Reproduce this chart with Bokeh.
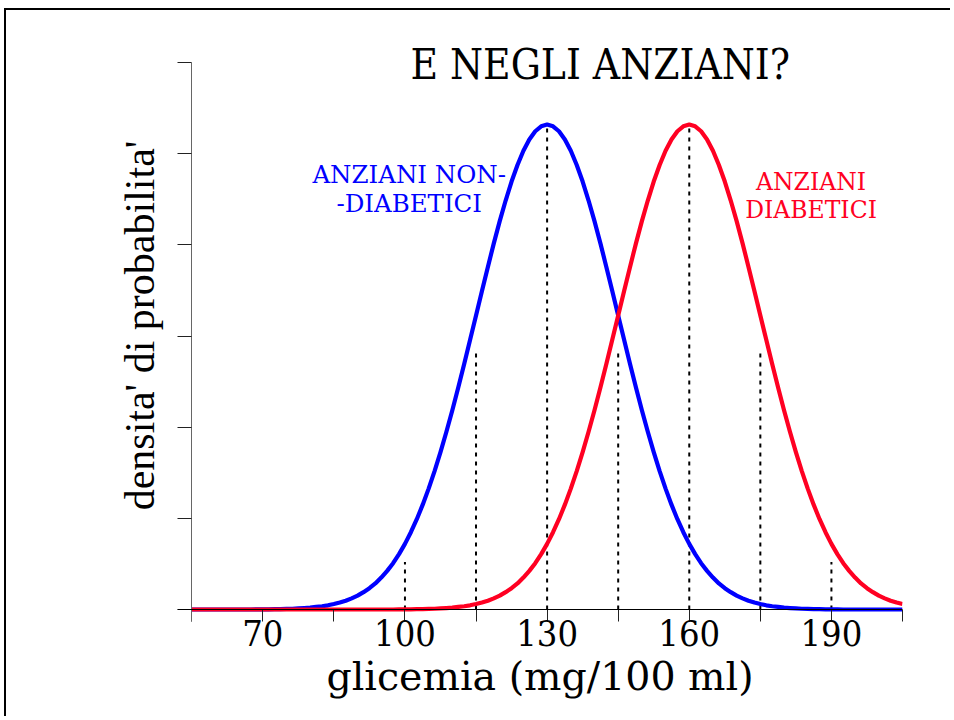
from bokeh.plotting import figure
from bokeh.models import FixedTicker, Span, Range1d, LinearAxis
from bokeh.core.properties import value
from bokeh.embed import file_html
from bokeh.resources import INLINE

# ---- data ----
glicemia = [55, 56.25, 57.5, 58.75, 60, 61.25, 62.5, 63.75, 65, 66.25, 67.5, 68.75, 70, 71.25,
            72.5, 73.75, 75, 76.25, 77.5, 78.75, 80, 81.25, 82.5, 83.75, 85, 86.25, 87.5, 88.75,
            90, 91.25, 92.5, 93.75, 95, 96.25, 97.5, 98.75, 100, 101.25, 102.5, 103.75, 105,
            106.25, 107.5, 108.75, 110, 111.25, 112.5, 113.75, 115, 116.25, 117.5, 118.75, 120,
            121.25, 122.5, 123.75, 125, 126.25, 127.5, 128.75, 130, 131.25, 132.5, 133.75, 135,
            136.25, 137.5, 138.75, 140, 141.25, 142.5, 143.75, 145, 146.25, 147.5, 148.75, 150,
            151.25, 152.5, 153.75, 155, 156.25, 157.5, 158.75, 160, 161.25, 162.5, 163.75, 165,
            166.25, 167.5, 168.75, 170, 171.25, 172.5, 173.75, 175, 176.25, 177.5, 178.75, 180,
            181.25, 182.5, 183.75, 185, 186.25, 187.5, 188.75, 190, 191.25, 192.5, 193.75, 195,
            196.25, 197.5, 198.75, 200, 201.25, 202.5, 203.75, 205]

non_diabetici = [0, 0, 0, 0, 0, 0, 0, 0, 0, 0, 0,
                 0.00001, 0.00001, 0.00001, 0.00002, 0.00002, 0.00003, 0.00004, 0.00006, 0.00008, 0.00010,
                 0.00014, 0.00018, 0.00023, 0.00030, 0.00038, 0.00048, 0.00061, 0.00076, 0.00095, 0.00117,
                 0.00143, 0.00175, 0.00212, 0.00254, 0.00304, 0.00360, 0.00424, 0.00495, 0.00575, 0.00663,
                 0.00759, 0.00863, 0.00975, 0.01093, 0.01218, 0.01347, 0.01479, 0.01613, 0.01747, 0.01879,
                 0.02008, 0.02130, 0.02243, 0.02347, 0.02438, 0.02516, 0.02578, 0.02623, 0.02650,
                 0.02660,
                 0.02650, 0.02623, 0.02578, 0.02516, 0.02438, 0.02347, 0.02243, 0.02130, 0.02008,
                 0.01879, 0.01747, 0.01613, 0.01479, 0.01347, 0.01218, 0.01093, 0.00975, 0.00863, 0.00759,
                 0.00663, 0.00575, 0.00495, 0.00424, 0.00360, 0.00304, 0.00254, 0.00212, 0.00175, 0.00143,
                 0.00117, 0.00095, 0.00076, 0.00061, 0.00048, 0.00038, 0.00030, 0.00023, 0.00018, 0.00014,
                 0.00010, 0.00008, 0.00006, 0.00004, 0.00003, 0.00002, 0.00002, 0.00001, 0.00001, 0.00001,
                 0, 0, 0, 0, 0, 0, 0, 0, 0, 0, 0]

diabetici = [0, 0, 0, 0, 0, 0, 0, 0, 0, 0, 0, 0, 0, 0, 0, 0, 0, 0, 0, 0, 0, 0, 0, 0, 0, 0, 0, 0,
             0, 0, 0, 0, 0, 0, 0,
             0.00001, 0.00001, 0.00001, 0.00002, 0.00002, 0.00003, 0.00004, 0.00006, 0.00008, 0.00010,
             0.00014, 0.00018, 0.00023, 0.00030, 0.00038, 0.00048, 0.00061, 0.00076, 0.00095, 0.00117,
             0.00143, 0.00175, 0.00212, 0.00254, 0.00304, 0.00360, 0.00424, 0.00495, 0.00575, 0.00663,
             0.00759, 0.00863, 0.00975, 0.01093, 0.01218, 0.01347, 0.01479, 0.01613, 0.01747, 0.01879,
             0.02008, 0.02130, 0.02243, 0.02347, 0.02438, 0.02516, 0.02578, 0.02623, 0.02650,
             0.02660,
             0.02650, 0.02623, 0.02578, 0.02516, 0.02438, 0.02347, 0.02243, 0.02130, 0.02008,
             0.01879, 0.01747, 0.01613, 0.01479, 0.01347, 0.01218, 0.01093, 0.00975, 0.00863, 0.00759,
             0.00663, 0.00575, 0.00495, 0.00424, 0.00360, 0.00304, 0.00254, 0.00212, 0.00175, 0.00143,
             0.00117, 0.00095, 0.00076, 0.00061, 0.00048, 0.00038, 0.00030]

guide_x = [100, 115, 130, 145, 160, 175, 190]
guide_top = [0.0026, 0.0143, 0.0266, 0.0143, 0.0266, 0.0143, 0.0026]

x_ticks = [55, 70, 85, 100, 115, 130, 145, 160, 175, 190, 205]
x_tick_labels = {55: "", 70: "70", 85: "", 100: "100", 115: "", 130: "130", 145: "",
                 160: "160", 175: "", 190: "190", 205: ""}
y_ticks = [0, 0.005, 0.01, 0.015, 0.02, 0.025, 0.03]

title_text = "E NEGLI ANZIANI?"
x_title = "glicemia (mg/100 ml)"
y_title = "densita' di probabilita'"
blue_label = ["ANZIANI NON-", "-DIABETICI"]
red_label = ["ANZIANI", "DIABETICI"]

# ---- styling ----
BLUE = "#0000ff"
RED = "#ff0022"
SLAB_C = "DejaVu Serif Condensed, DejaVu Serif"
SLAB = "DejaVu Serif"
TIMES = "Liberation Serif"

p = figure(width=946, height=708, output_backend="svg", toolbar_location=None,
           x_range=Range1d(52, 205), y_range=Range1d(-0.000658, 0.03181),
           min_border_left=171, min_border_right=50, min_border_top=19, min_border_bottom=97)
p.grid.visible = False
p.outline_line_color = None
p.background_fill_color = "white"
p.border_fill_color = "white"
p.styles = {"margin-left": "4px", "margin-top": "8px",
            "border-left": "2px solid black", "border-top": "2px solid black"}

# x axis: its own line is hidden; a baseline is drawn at y = 0, ticks go up to it
xa = p.xaxis[0]
xa.ticker = FixedTicker(ticks=x_ticks)
xa.major_label_overrides = x_tick_labels
xa.minor_tick_line_color = None
xa.axis_line_color = None
xa.major_tick_in = 12
xa.major_tick_out = 0
xa.major_tick_line_color = "#222222"
xa.major_label_text_font = SLAB_C
xa.major_label_text_font_size = "36px"
xa.major_label_text_color = "black"
xa.major_label_standoff = -2
xa.axis_label = x_title
xa.axis_label_text_font = SLAB
xa.axis_label_text_font_size = "39.5px"
xa.axis_label_text_font_style = "normal"
xa.axis_label_text_color = "black"
xa.axis_label_standoff = 4

# label-only y axis at the frame edge
yl = p.yaxis[0]
yl.ticker = FixedTicker(ticks=[])
yl.axis_line_color = None
yl.major_tick_line_color = None
yl.minor_tick_line_color = None
yl.major_tick_out = 0
yl.major_tick_in = 0
yl.major_label_text_font_size = "0px"
yl.axis_label = y_title
yl.axis_label_text_font = TIMES
yl.axis_label_text_font_size = "42px"
yl.axis_label_text_font_style = "normal"
yl.axis_label_text_color = "black"
yl.axis_label_standoff = 15

# visible y axis line with outward ticks, placed at glicemia = 55
ya = LinearAxis(fixed_location=55, bounds=(-0.000658, 0.03), ticker=FixedTicker(ticks=y_ticks),
                major_label_overrides={t: "" for t in y_ticks},
                minor_tick_line_color=None, axis_line_color="#666666",
                major_tick_in=0, major_tick_out=15, major_tick_line_color="#222222")
p.add_layout(ya, "left")

p.add_layout(Span(location=0, dimension="width", line_color="black", line_width=1.2))

p.segment(x0=guide_x, y0=[0] * len(guide_x), x1=guide_x, y1=guide_top,
          line_color="black", line_width=2, line_dash="4 5")

p.line(glicemia, non_diabetici, line_color=BLUE, line_width=4.2, line_join="round")
p.line(glicemia, diabetici, line_color=RED, line_width=4.2, line_join="round")

p.text(x=[141.2], y=[0.02989], text=[title_text], text_font=value(SLAB_C),
       text_font_size="42px", text_align="center", text_baseline="middle", text_color="black")
p.text(x=[100.9, 100.9], y=[0.02386, 0.02227], text=blue_label, text_font=value(SLAB),
       text_font_size="24.5px", text_align="center", text_baseline="middle", text_color=BLUE)
p.text(x=[185.7, 185.7], y=[0.02345, 0.02191], text=red_label, text_font=value(SLAB),
       text_font_size="23.5px", text_align="center", text_baseline="middle", text_color=RED)

open("out.html", "w").write(file_html(p, INLINE))
